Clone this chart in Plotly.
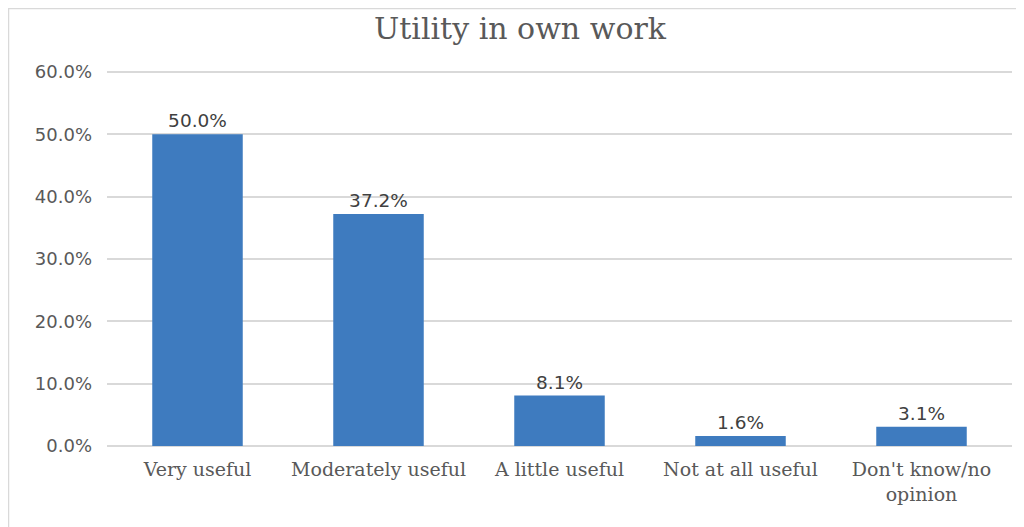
import plotly.graph_objects as go

categories = ["Very useful", "Moderately useful", "A little useful", "Not at all useful", "Don't know/no<br>opinion"]
values = [0.500, 0.372, 0.081, 0.016, 0.031]
tick_vals = [0, 0.1, 0.2, 0.3, 0.4, 0.5, 0.6]
tick_text = ["0.0%", "10.0%", "20.0%", "30.0%", "40.0%", "50.0%", "60.0%"]

W, H = 1024, 527
ml, mr, mt, mb = 99, 20, 62, 89
pw, ph = W - ml - mr, H - mt - mb
ymax = 0.6 * ph / (ph - 2)

fig = go.Figure(go.Bar(
    x=categories, y=values,
    marker=dict(color="#3e7bbf", line=dict(width=0)),
    width=0.5,
    text=[f"{v*100:.1f}%" for v in values],
    textposition="outside",
    textfont=dict(family="DejaVu Sans", size=18.5, color="#404040"),
    cliponaxis=False,
))

fig.update_layout(
    width=W, height=H,
    margin=dict(l=ml, r=mr, t=mt, b=mb),
    paper_bgcolor="white", plot_bgcolor="white",
    title=dict(text="Utility in own work", x=0.5, xanchor="center", y=1 - 20 / H, yanchor="middle",
               font=dict(family="DejaVu Serif", size=30, color="#595959")),
    showlegend=False,
    xaxis=dict(tickfont=dict(family="DejaVu Serif", size=19, color="#595959"),
               showline=False, ticks="", showgrid=False, ticklabelstandoff=10),
    yaxis=dict(range=[0, ymax], tickvals=tick_vals, ticktext=tick_text,
               tickfont=dict(family="DejaVu Sans", size=18, color="#595959"),
               showgrid=True, gridcolor="#d9d9d9", gridwidth=1.5,
               zeroline=True, zerolinecolor="#d9d9d9", zerolinewidth=1.5,
               showline=False, ticks="", ticklabelstandoff=14),
    shapes=[dict(type="rect", xref="paper", yref="paper",
                 x0=(0.5 - ml) / pw, x1=(W + 20 - ml) / pw,
                 y0=(H - mb - (H + 20)) / ph, y1=(H - mb - 0.5) / ph,
                 line=dict(color="#d9d9d9", width=1.5), fillcolor="rgba(0,0,0,0)", layer="below")],
)

fig.write_html("out.html")
